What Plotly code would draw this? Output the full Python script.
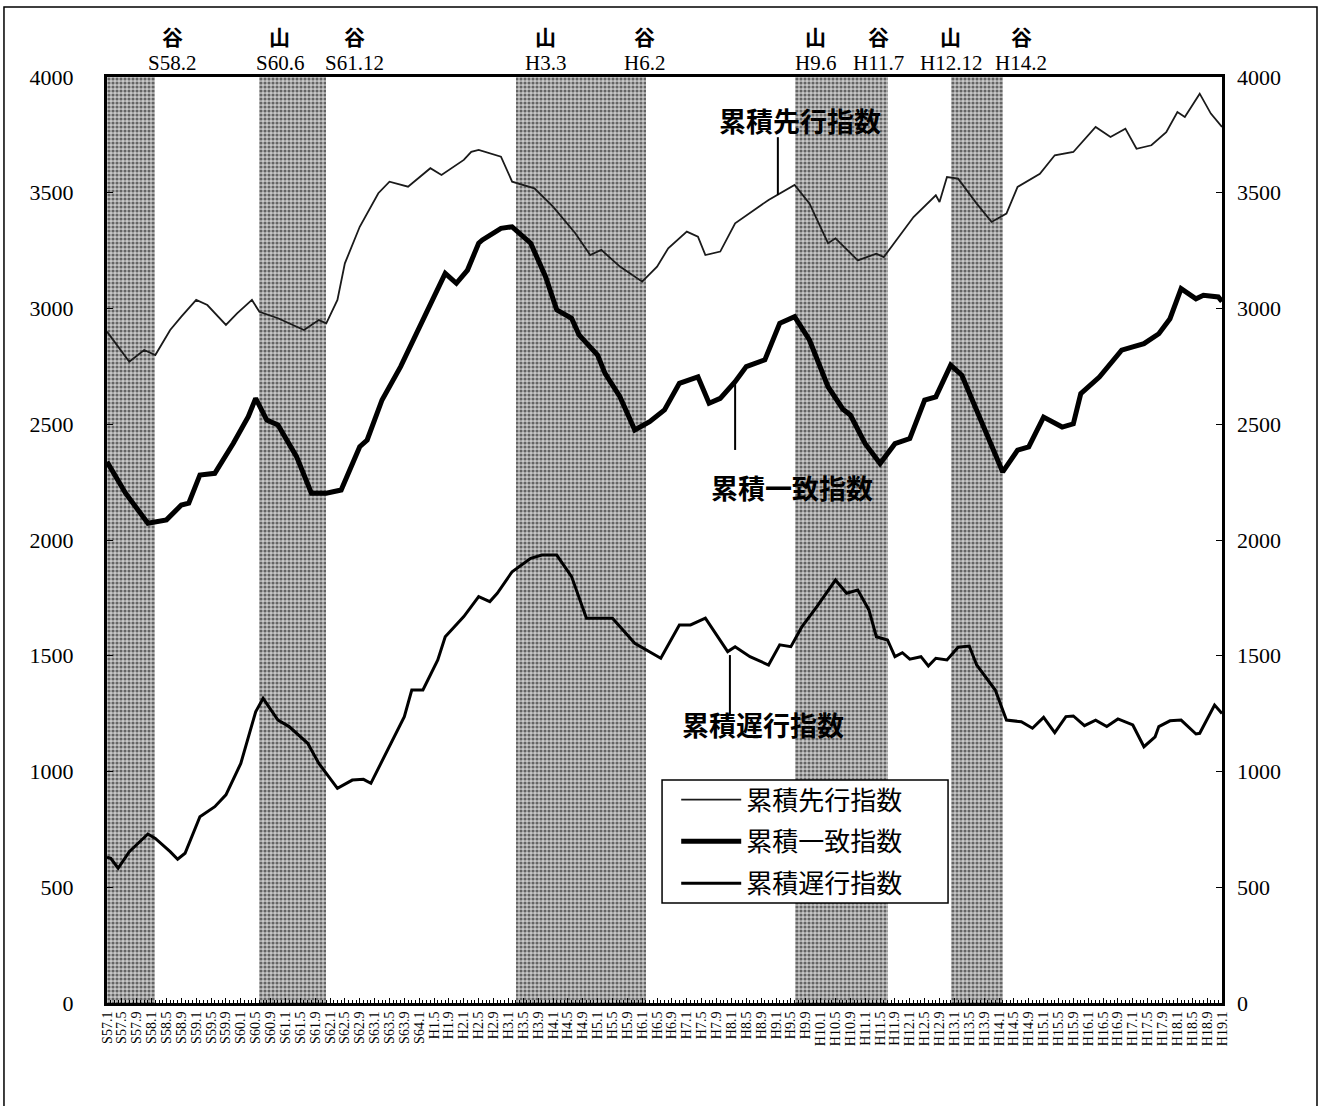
import plotly.graph_objects as go

# ---------------- data (x = months since S57.1 = Jan 1982) ----------------
series_names = ["累積先行指数", "累積一致指数", "累積遅行指数"]

lead_m = [0, 6, 10, 13, 17, 20, 24, 27, 32, 35, 39, 41, 46, 53, 57, 59, 62, 64, 68, 73,
          76, 81, 87, 90, 96, 98, 100, 106, 109, 115, 120, 126, 130, 133, 138, 144, 148,
          151, 156, 159, 161, 165, 169, 174, 178, 185, 189, 194, 196, 202, 207, 209, 213,
          217, 223, 224, 226, 229, 234, 238, 242, 245, 251, 255, 260, 266, 270, 274, 277,
          281, 285, 288, 290, 294, 297, 300]
lead_v = [2900, 2770, 2821, 2799, 2907, 2965, 3037, 3015, 2929, 2979, 3037, 2986, 2958,
          2907, 2950, 2936, 3037, 3195, 3353, 3498, 3548, 3526, 3606, 3577, 3642, 3677,
          3685, 3656, 3548, 3519, 3440, 3325, 3231, 3253, 3181, 3116, 3181, 3260, 3332,
          3310, 3231, 3246, 3368, 3426, 3469, 3534, 3454, 3282, 3303, 3208, 3237, 3222,
          3309, 3395, 3489, 3460, 3568, 3561, 3453, 3374, 3410, 3525, 3582, 3662, 3676,
          3784, 3741, 3777, 3690, 3705, 3762, 3849, 3827, 3928, 3842, 3784]

coin_m = [0, 5, 11, 16, 20, 22, 25, 29, 34, 38, 40, 43, 46, 51, 55, 59, 63, 68, 70, 74,
          79, 83, 88, 91, 94, 97, 100, 101, 106, 109, 114, 118, 121, 125, 127, 132, 134,
          138, 142, 146, 150, 154, 159, 162, 165, 169, 172, 177, 181, 185, 189, 194, 198,
          200, 204, 208, 212, 216, 220, 223, 227, 230, 236, 241, 245, 248, 252, 257, 260,
          262, 267, 270, 273, 276, 279, 283, 286, 289, 293, 295, 299, 300]
coin_v = [2338, 2202, 2072, 2087, 2151, 2159, 2281, 2288, 2418, 2533, 2612, 2518, 2497,
          2360, 2202, 2202, 2216, 2403, 2432, 2605, 2749, 2878, 3051, 3152, 3109, 3166,
          3282, 3296, 3346, 3353, 3282, 3137, 2994, 2958, 2886, 2799, 2720, 2619, 2475,
          2511, 2562, 2677, 2705, 2591, 2612, 2684, 2749, 2778, 2936, 2965, 2864, 2662,
          2565, 2540, 2416, 2330, 2416, 2438, 2604, 2618, 2755, 2712, 2488, 2294, 2388,
          2402, 2531, 2488, 2502, 2632, 2704, 2762, 2820, 2834, 2848, 2891, 2956, 3086,
          3042, 3057, 3050, 3030]

lag_m = [0, 1, 3, 6, 11, 13, 17, 19, 21, 25, 29, 32, 36, 40, 42, 46, 49, 54, 57, 62, 66,
         69, 71, 76, 80, 82, 85, 89, 91, 96, 100, 103, 105, 109, 114, 117, 121, 125, 129,
         136, 142, 149, 154, 157, 161, 167, 169, 173, 178, 181, 184, 187, 191, 196, 199,
         202, 205, 207, 210, 212, 214, 216, 219, 221, 223, 226, 229, 232, 234, 239, 242,
         246, 249, 252, 255, 258, 260, 263, 266, 269, 272, 276, 279, 282, 283, 286, 289,
         293, 294, 298, 300]
lag_v = [630, 625, 582, 654, 730, 711, 654, 621, 647, 805, 848, 899, 1035, 1258, 1316,
         1222, 1194, 1122, 1035, 927, 963, 966, 949, 1107, 1237, 1352, 1352, 1482, 1582,
         1669, 1755, 1734, 1770, 1863, 1921, 1935, 1935, 1842, 1662, 1662, 1554, 1489,
         1633, 1633, 1662, 1518, 1539, 1496, 1460, 1547, 1539, 1626, 1712, 1827, 1770,
         1784, 1698, 1582, 1568, 1496, 1513, 1485, 1496, 1456, 1489, 1482, 1537, 1542,
         1460, 1352, 1222, 1215, 1187, 1234, 1168, 1237, 1240, 1198, 1222, 1194, 1227,
         1201, 1107, 1150, 1194, 1219, 1222, 1162, 1165, 1287, 1251]

# recession (peak -> trough) periods, months since S57.1
cycle_start = [0, 41, 110, 185, 227]
cycle_end = [13, 59, 145, 210, 241]

# turning point labels along the top
turn_kind = ["谷", "山", "谷", "山", "谷", "山", "谷", "山", "谷"]
turn_date = ["S58.2", "S60.6", "S61.12", "H3.3", "H6.2", "H9.6", "H11.7", "H12.12", "H14.2"]
turn_label_at = [17.5, 46.5, 66.5, 118.0, 144.5, 190.5, 207.5, 227.0, 246.0]

x_tick_text = [
    "S57.1", "S57.5", "S57.9", "S58.1", "S58.5", "S58.9", "S59.1", "S59.5", "S59.9",
    "S60.1", "S60.5", "S60.9", "S61.1", "S61.5", "S61.9", "S62.1", "S62.5", "S62.9",
    "S63.1", "S63.5", "S63.9", "S64.1", "H1.5", "H1.9", "H2.1", "H2.5", "H2.9",
    "H3.1", "H3.5", "H3.9", "H4.1", "H4.5", "H4.9", "H5.1", "H5.5", "H5.9",
    "H6.1", "H6.5", "H6.9", "H7.1", "H7.5", "H7.9", "H8.1", "H8.5", "H8.9",
    "H9.1", "H9.5", "H9.9", "H10.1", "H10.5", "H10.9", "H11.1", "H11.5", "H11.9",
    "H12.1", "H12.5", "H12.9", "H13.1", "H13.5", "H13.9", "H14.1", "H14.5", "H14.9",
    "H15.1", "H15.5", "H15.9", "H16.1", "H16.5", "H16.9", "H17.1", "H17.5", "H17.9",
    "H18.1", "H18.5", "H18.9", "H19.1"]
x_tick_vals = list(range(0, 301, 4))
y_ticks = [0, 500, 1000, 1500, 2000, 2500, 3000, 3500, 4000]
Y_MAX = 4000
X_MAX = 300

# series label callouts (label position, leader line)
callout_x = [186.4, 184.3, 176.5]
callout_y = [3810, 2225, 1201]
leader_x = [180.5, 169.0, 167.6]
leader_y0 = [3490, 2678, 1503]
leader_y1 = [3740, 2389, 1244]

SERIF = "Liberation Serif, Noto Sans CJK JP"
JP = "Noto Sans CJK JP"

fig = go.Figure()

# shaded recession periods (stippled)
fig.add_trace(go.Bar(
    x=[(s + e) / 2 for s, e in zip(cycle_start, cycle_end)],
    y=[Y_MAX] * len(cycle_start),
    width=[e - s for s, e in zip(cycle_start, cycle_end)],
    base=0,
    marker=dict(color="white", line=dict(width=0),
                pattern=dict(shape=".", fgcolor="black", bgcolor="#c8c8c8",
                             size=4, solidity=0.48)),
    showlegend=False, hoverinfo="skip"))

fig.add_trace(go.Scatter(x=lead_m, y=lead_v, mode="lines", name=series_names[0],
                         legendgroup="a", line=dict(color="#1a1a1a", width=1.8)))
fig.add_trace(go.Scatter(x=coin_m, y=coin_v, mode="lines", name=series_names[1],
                         legendgroup="b", line=dict(color="black", width=5)))
fig.add_trace(go.Scatter(x=lag_m, y=lag_v, mode="lines", name=series_names[2],
                         legendgroup="c", line=dict(color="black", width=3)))
# right-hand axis carrier
fig.add_trace(go.Scatter(x=[None], y=[None], yaxis="y2", showlegend=False,
                         hoverinfo="skip"))

annotations = []
for k, d, xp in zip(turn_kind, turn_date, turn_label_at):
    annotations.append(dict(x=xp, xref="x", y=1.0445, yref="paper", text="<b>" + k + "</b>",
                            showarrow=False, font=dict(family=JP, size=21, color="black"),
                            xanchor="center", yanchor="middle"))
    annotations.append(dict(x=xp, xref="x", y=1.0155, yref="paper", text=d,
                            showarrow=False, font=dict(family=SERIF, size=21, color="black"),
                            xanchor="center", yanchor="middle"))
for name, cx, cy in zip(series_names, callout_x, callout_y):
    annotations.append(dict(x=cx, y=cy, xref="x", yref="y", text="<b>" + name + "</b>",
                            showarrow=False, font=dict(family=JP, size=27, color="black"),
                            xanchor="center", yanchor="middle"))

shapes = []
for lx, a, b in zip(leader_x, leader_y0, leader_y1):
    shapes.append(dict(type="line", xref="x", yref="y", x0=lx, x1=lx, y0=a, y1=b,
                       line=dict(color="black", width=2)))
# legend box (white panel with border)
shapes.append(dict(type="rect", xref="paper", yref="paper",
                   x0=0.4978, x1=0.7543, y0=0.1080, y1=0.2408,
                   line=dict(color="black", width=1.5), fillcolor="white", layer="above"))
# outer frame of the whole picture
shapes.append(dict(type="rect", xref="paper", yref="paper", x0=-0.0924, x1=1.0852,
                   y0=-0.2, y1=1.0756, line=dict(color="black", width=1.5),
                   fillcolor="rgba(0,0,0,0)", layer="below"))

fig.update_layout(
    width=1327, height=1106,
    margin=dict(l=107, r=105, t=77, b=103, autoexpand=False),
    paper_bgcolor="white", plot_bgcolor="white",
    barmode="overlay", bargap=0,
    showlegend=True,
    legend=dict(x=0.5105, y=0.2450, xanchor="left", yanchor="top",
                bgcolor="rgba(0,0,0,0)", borderwidth=0,
                font=dict(family=JP, size=26, color="black"),
                itemwidth=60, tracegroupgap=5, traceorder="grouped"),
    xaxis=dict(range=[0, X_MAX], tickmode="array", tickvals=x_tick_vals,
               ticktext=x_tick_text, tickangle=-90,
               tickfont=dict(family=SERIF, size=14, color="black"),
               showline=True, linecolor="black", linewidth=3, mirror=True,
               ticks="inside", ticklen=5, tickcolor="black",
               minor=dict(tickmode="linear", tick0=0, dtick=1, ticks="inside",
                          ticklen=3, tickcolor="black"),
               showgrid=False, zeroline=False),
    yaxis=dict(range=[0, Y_MAX], tickmode="array", tickvals=y_ticks,
               tickfont=dict(family=SERIF, size=22, color="black"),
               showline=True, linecolor="black", linewidth=3, mirror=True,
               ticks="inside", ticklen=6, tickcolor="black", ticklabelstandoff=26,
               showgrid=False, zeroline=False),
    yaxis2=dict(range=[0, Y_MAX], overlaying="y", side="right", tickmode="array",
                tickvals=y_ticks, tickfont=dict(family=SERIF, size=22, color="black"),
                ticks="inside", ticklen=6, tickcolor="black", ticklabelstandoff=14,
                showgrid=False, zeroline=False, showline=False),
    annotations=annotations,
    shapes=shapes,
)

fig.write_html("out.html", config={"displayModeBar": False},
               post_script="document.body.style.margin='0px';")
